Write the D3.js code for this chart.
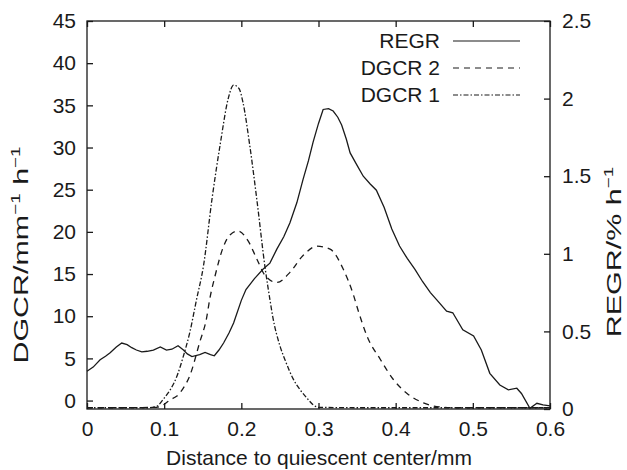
<!DOCTYPE html>
<html>
<head>
<meta charset="utf-8">
<script src="https://cdn.jsdelivr.net/npm/d3@7"></script>
<style>
  body { margin: 0; background: #fff; }
  text { font-family: "Liberation Sans", Arial, sans-serif; fill: #1a1a1a; }
</style>
</head>
<body>
<div id="root"></div>
<script>
// REGR, read on the right axis (% h^-1)
const regrX = [0, 0.008, 0.017, 0.024, 0.03, 0.038, 0.045, 0.052, 0.058, 0.064, 0.071, 0.078, 0.086, 0.095,
  0.103, 0.11, 0.118, 0.125, 0.13, 0.136, 0.146, 0.153, 0.16, 0.165, 0.171, 0.177, 0.184, 0.19, 0.2, 0.206,
  0.217, 0.228, 0.237, 0.246, 0.255, 0.263, 0.272, 0.28, 0.287, 0.293, 0.3, 0.306, 0.313, 0.319, 0.325,
  0.33, 0.336, 0.341, 0.35, 0.358, 0.367, 0.375, 0.385, 0.395, 0.405, 0.415, 0.425, 0.435, 0.445, 0.453,
  0.466, 0.474, 0.487, 0.501, 0.511, 0.522, 0.535, 0.546, 0.557, 0.563, 0.574, 0.583, 0.591, 0.6];
const regrY = [0.243, 0.27, 0.317, 0.34, 0.362, 0.4, 0.425, 0.415, 0.395, 0.38, 0.368, 0.372, 0.38, 0.4,
  0.38, 0.385, 0.408, 0.38, 0.355, 0.338, 0.35, 0.364, 0.35, 0.343, 0.38, 0.425, 0.49, 0.554, 0.7, 0.77,
  0.84, 0.9, 0.94, 1.03, 1.11, 1.2, 1.33, 1.48, 1.6, 1.72, 1.84, 1.93, 1.935, 1.92, 1.88,
  1.83, 1.74, 1.65, 1.57, 1.5, 1.45, 1.41, 1.3, 1.16, 1.05, 0.97, 0.9, 0.82, 0.75, 0.705,
  0.63, 0.62, 0.51, 0.47, 0.38, 0.23, 0.155, 0.123, 0.134, 0.1, 0.005, 0.037, 0.026, 0.02];

// DGCR 2, left axis
const dgcr2X = [0, 0.05, 0.09, 0.099, 0.108, 0.116, 0.125, 0.133, 0.146, 0.155, 0.159, 0.166, 0.177, 0.186,
  0.196, 0.209, 0.22, 0.231, 0.246, 0.263, 0.28, 0.298, 0.315, 0.332, 0.345, 0.352, 0.363, 0.38, 0.397,
  0.414, 0.436, 0.457, 0.48, 0.6];
const dgcr2Y = [-0.85, -0.85, -0.8, -0.5, 0.1, 0.5, 1.5, 2.9, 6.9, 9.8, 12.0, 14.8, 18.3, 19.7,
  20.1, 18.9, 16.8, 14.8, 14.0, 15.2, 17.2, 18.3, 17.95, 15.6, 12.6, 10.5, 7.6, 4.9, 2.5,
  0.9, -0.27, -0.75, -0.85, -0.85];

// DGCR 1, left axis
const dgcr1X = [0, 0.05, 0.08, 0.09, 0.1, 0.108, 0.117, 0.125, 0.133, 0.142, 0.151, 0.162, 0.173, 0.183,
  0.19, 0.197, 0.202, 0.211, 0.22, 0.231, 0.237, 0.241, 0.25, 0.258, 0.267, 0.276, 0.285, 0.293, 0.3,
  0.35, 0.6];
const dgcr1Y = [-0.85, -0.85, -0.85, -0.7, 0.3, 1.3, 3.0, 5.3, 8.0, 12.0, 16.0, 23.9, 30.6, 35.8,
  37.4, 37.0, 35.4, 30.2, 23.9, 15.6, 12.0, 9.8, 6.5, 4.5, 2.6, 1.3, 0.3, -0.5, -0.8,
  -0.85, -0.85];

const xTicks = [0, 0.1, 0.2, 0.3, 0.4, 0.5, 0.6];
const yTicks = [0, 5, 10, 15, 20, 25, 30, 35, 40, 45];
const y2Ticks = [0, 0.5, 1, 1.5, 2, 2.5];
const seriesNames = ["REGR", "DGCR 2", "DGCR 1"];

const width = 627;
const height = 470;
const margin = { top: 21, right: 77, bottom: 61, left: 87 };
const tickSize = 6;
const fontSize = 21;
const ink = "#1a1a1a";
const dashes = { "REGR": null, "DGCR 2": "6,5", "DGCR 1": "5,2,1.5,2" };

const x = d3.scaleLinear().domain([0, 0.6]).range([margin.left, width - margin.right]);
const y = d3.scaleLinear().domain([-1, 45]).range([height - margin.bottom, margin.top]);
const y2 = d3.scaleLinear().domain([0, 2.5]).range([height - margin.bottom, margin.top]);

const svg = d3.select("#root")
  .append("svg")
  .attr("width", width)
  .attr("height", height)
  .attr("viewBox", `0 0 ${width} ${height}`);

const fmt = (d) => String(d);

// axes, ticks pointing inward like gnuplot
const axisStyle = (g) => {
  g.select(".domain").remove();
  g.selectAll("line").attr("stroke", ink).attr("stroke-width", 1.3);
  g.selectAll("text").attr("font-size", fontSize).attr("fill", ink);
};

svg.append("g")
  .attr("transform", `translate(0,${height - margin.bottom})`)
  .call(d3.axisBottom(x).tickValues(xTicks).tickFormat(fmt).tickSizeInner(-tickSize).tickPadding(12))
  .call(axisStyle);

svg.append("g")
  .attr("transform", `translate(0,${margin.top})`)
  .call(d3.axisTop(x).tickValues(xTicks).tickFormat("").tickSizeInner(-tickSize))
  .call(axisStyle);

svg.append("g")
  .attr("transform", `translate(${margin.left},0)`)
  .call(d3.axisLeft(y).tickValues(yTicks).tickFormat(fmt).tickSizeInner(-tickSize).tickPadding(11))
  .call(axisStyle);

svg.append("g")
  .attr("transform", `translate(${width - margin.right},0)`)
  .call(d3.axisRight(y2).tickValues(y2Ticks).tickFormat(fmt).tickSizeInner(-tickSize).tickPadding(12))
  .call(axisStyle);

svg.append("rect")
  .attr("x", margin.left)
  .attr("y", margin.top)
  .attr("width", width - margin.left - margin.right)
  .attr("height", height - margin.top - margin.bottom)
  .attr("fill", "none")
  .attr("stroke", ink)
  .attr("stroke-width", 1.3);

// curves
const curves = [
  { name: "REGR", xs: regrX, ys: regrY, scale: y2, curve: d3.curveLinear },
  { name: "DGCR 2", xs: dgcr2X, ys: dgcr2Y, scale: y, curve: d3.curveMonotoneX },
  { name: "DGCR 1", xs: dgcr1X, ys: dgcr1Y, scale: y, curve: d3.curveMonotoneX },
];

curves.forEach(({ name, xs, ys, scale, curve }) => {
  const line = d3.line()
    .x((d) => x(d[0]))
    .y((d) => scale(d[1]))
    .curve(curve);
  svg.append("path")
    .datum(xs.map((v, i) => [v, ys[i]]))
    .attr("d", line)
    .attr("fill", "none")
    .attr("stroke", ink)
    .attr("stroke-width", 1.3)
    .attr("stroke-dasharray", dashes[name]);
});

// legend
const legend = svg.append("g");
seriesNames.forEach((name, i) => {
  const ly = 41 + i * 27;
  legend.append("text")
    .attr("x", 440)
    .attr("y", ly)
    .attr("dy", "0.35em")
    .attr("text-anchor", "end")
    .attr("font-size", fontSize)
    .text(name);
  legend.append("line")
    .attr("x1", 453)
    .attr("x2", 520)
    .attr("y1", ly)
    .attr("y2", ly)
    .attr("stroke", ink)
    .attr("stroke-width", 1.2)
    .attr("stroke-dasharray", dashes[name]);
});

// axis titles
svg.append("text")
  .attr("x", 319)
  .attr("y", 465)
  .attr("text-anchor", "middle")
  .attr("font-size", fontSize)
  .text("Distance to quiescent center/mm");

// the rotated titles run longer than the horizontal text in the original
const yTitle = svg.append("text")
  .attr("transform", `translate(28,255) rotate(-90) scale(1.45,1)`)
  .attr("text-anchor", "middle")
  .attr("font-size", fontSize);
yTitle.append("tspan").text("DGCR/mm");
yTitle.append("tspan").attr("font-size", 13).attr("dy", -8).text("\u22121");
yTitle.append("tspan").attr("dy", 8).text(" h");
yTitle.append("tspan").attr("font-size", 13).attr("dy", -8).text("\u22121");

const y2Title = svg.append("text")
  .attr("transform", `translate(621,252) rotate(-90) scale(1.45,1)`)
  .attr("text-anchor", "middle")
  .attr("font-size", fontSize);
y2Title.append("tspan").text("REGR/% h");
y2Title.append("tspan").attr("font-size", 13).attr("dy", -8).text("\u22121");
</script>
</body>
</html>
